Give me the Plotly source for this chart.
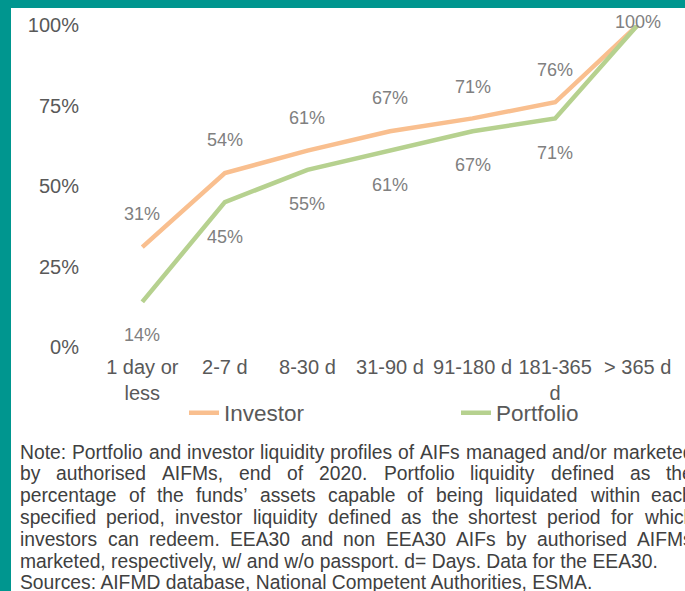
import plotly.graph_objects as go

# ---------------- data ----------------
categories = ["1 day or<br>less", "2-7 d", "8-30 d", "31-90 d", "91-180 d", "181-365<br>d", "> 365 d"]
investor = [31, 54, 61, 67, 71, 76, 100]
portfolio = [14, 45, 55, 61, 67, 71, 100]
y_tick_values = [0, 25, 50, 75, 100]
y_tick_labels = ["0%", "25%", "50%", "75%", "100%"]

note_lines = [
    "Note: Portfolio and investor liquidity profiles of AIFs managed and/or marketed",
    "by authorised AIFMs, end of 2020. Portfolio liquidity defined as the",
    "percentage of the funds\u2019 assets capable of being liquidated within each",
    "specified period, investor liquidity defined as the shortest period for which",
    "investors can redeem. EEA30 and non EEA30 AIFs by authorised AIFMs",
    "marketed, respectively, w/ and w/o passport. d= Days. Data for the EEA30.",
    "Sources: AIFMD database, National Competent Authorities, ESMA.",
]
justified = [True, True, True, True, True, False, False]

# ---------------- style ----------------
W, H = 685, 591
ML, MR, MT, MB = 101, 6, 25, 244
PW, PH = W - ML - MR, H - MT - MB
FONT = "Liberation Sans, Arial, sans-serif"
ORANGE = "#F9BF8F"
GREEN = "#B6D18F"
TEAL = "#00968F"
inv_shift = [33, 33, 33, 33, 31, 32, 3]
por_shift = [-33, -35, -34, -34, -34, -35, 3]


def px_x(p):
    return (p - ML) / PW


def px_y(p):
    return (H - MB - p) / PH


fig = go.Figure()
fig.add_trace(go.Scatter(x=categories, y=investor, name="Investor", mode="lines",
                         line=dict(color=ORANGE, width=4.5), cliponaxis=False, legend="legend"))
fig.add_trace(go.Scatter(x=categories, y=portfolio, name="Portfolio", mode="lines",
                         line=dict(color=GREEN, width=4.5), cliponaxis=False, legend="legend2"))

annotations = []
for c, v, s in zip(categories, investor, inv_shift):
    annotations.append(dict(x=c, y=v, xref="x", yref="y", text=f"{v}%", showarrow=False,
                            yshift=s, font=dict(family=FONT, size=18, color="#808080")))
for c, v, s in zip(categories, portfolio, por_shift):
    if v == 100:
        continue
    annotations.append(dict(x=c, y=v, xref="x", yref="y", text=f"{v}%", showarrow=False,
                            yshift=s, font=dict(family=FONT, size=18, color="#808080")))

# Arial / Liberation Sans advance widths (per 1000 em)
AW = {' ': 278, '%': 889, "'": 191, '\u2019': 222, '(': 333, ')': 333, ',': 278, '-': 333, '.': 278,
      '/': 278, ':': 278, ';': 278, '=': 584, '>': 584}
for ch in "0123456789":
    AW[ch] = 556
AW.update({'A': 667, 'B': 667, 'C': 722, 'D': 722, 'E': 667, 'F': 611, 'G': 778, 'H': 722, 'I': 278,
           'J': 500, 'K': 667, 'L': 556, 'M': 833, 'N': 722, 'O': 778, 'P': 667, 'Q': 778, 'R': 722,
           'S': 667, 'T': 611, 'U': 722, 'V': 667, 'W': 944, 'X': 667, 'Y': 667, 'Z': 611,
           'a': 556, 'b': 556, 'c': 500, 'd': 556, 'e': 556, 'f': 278, 'g': 556, 'h': 556, 'i': 222,
           'j': 222, 'k': 500, 'l': 222, 'm': 833, 'n': 556, 'o': 556, 'p': 556, 'q': 556, 'r': 333,
           's': 500, 't': 278, 'u': 556, 'v': 500, 'w': 722, 'x': 500, 'y': 500, 'z': 500})

NOTE_SIZE = 19.3
NOTE_LEFT = 18
NOTE_RIGHT = 691
NOTE_TOP = 452
NOTE_STEP = 21.8


def text_w(s, size):
    return sum(AW.get(ch, 556) for ch in s) * size / 1000.0


for i, (line, just) in enumerate(zip(note_lines, justified)):
    yc = NOTE_TOP + i * NOTE_STEP
    if just:
        words = line.split(" ")
        size = NOTE_SIZE
        while True:
            total = sum(text_w(w_, size) for w_ in words)
            gap = (NOTE_RIGHT - NOTE_LEFT - total) / (len(words) - 1)
            if gap >= 0.278 * size * 0.85 or size < 16:
                break
            size -= 0.1
        nf = dict(family=FONT, size=size, color="#404040")
        x = NOTE_LEFT
        for w_ in words:
            annotations.append(dict(x=px_x(x), y=px_y(yc), xref="paper", yref="paper", text=w_,
                                    showarrow=False, xanchor="left", yanchor="middle", font=nf))
            x += text_w(w_, size) + gap
    else:
        nf = dict(family=FONT, size=NOTE_SIZE, color="#404040")
        annotations.append(dict(x=px_x(NOTE_LEFT), y=px_y(yc), xref="paper", yref="paper", text=line,
                                showarrow=False, xanchor="left", yanchor="middle", font=nf))

shapes = [
    dict(type="rect", xref="paper", yref="paper", x0=px_x(0), x1=px_x(11), y0=px_y(H), y1=px_y(0),
         fillcolor=TEAL, line=dict(width=0), layer="above"),
    dict(type="rect", xref="paper", yref="paper", x0=px_x(0), x1=px_x(W), y0=px_y(8), y1=px_y(0),
         fillcolor=TEAL, line=dict(width=0), layer="above"),
]

legend_font = dict(family=FONT, size=22.5, color="#595959")
fig.update_layout(
    width=W, height=H,
    margin=dict(l=ML, r=MR, t=MT, b=MB, pad=0),
    paper_bgcolor="white", plot_bgcolor="white",
    font=dict(family=FONT, color="#595959"),
    xaxis=dict(type="category", range=[-0.5, 6.5], showgrid=False, zeroline=False, showline=False,
               ticks="", ticklabelstandoff=6, tickfont=dict(family=FONT, size=20, color="#595959")),
    yaxis=dict(range=[0, 100], tickvals=y_tick_values, ticktext=y_tick_labels, showgrid=False,
               zeroline=False, showline=False, ticks="", ticklabelstandoff=21,
               tickfont=dict(family=FONT, size=20, color="#595959")),
    showlegend=True,
    legend=dict(orientation="h", x=px_x(184), y=px_y(413), xanchor="left", yanchor="middle",
                font=legend_font, bgcolor="rgba(0,0,0,0)", borderwidth=0),
    legend2=dict(orientation="h", x=px_x(456), y=px_y(413), xanchor="left", yanchor="middle",
                 font=legend_font, bgcolor="rgba(0,0,0,0)", borderwidth=0),
    annotations=annotations,
    shapes=shapes,
)

fig.write_html("out.html", config={"displayModeBar": False},
               post_script="document.body.style.margin='0px';")
